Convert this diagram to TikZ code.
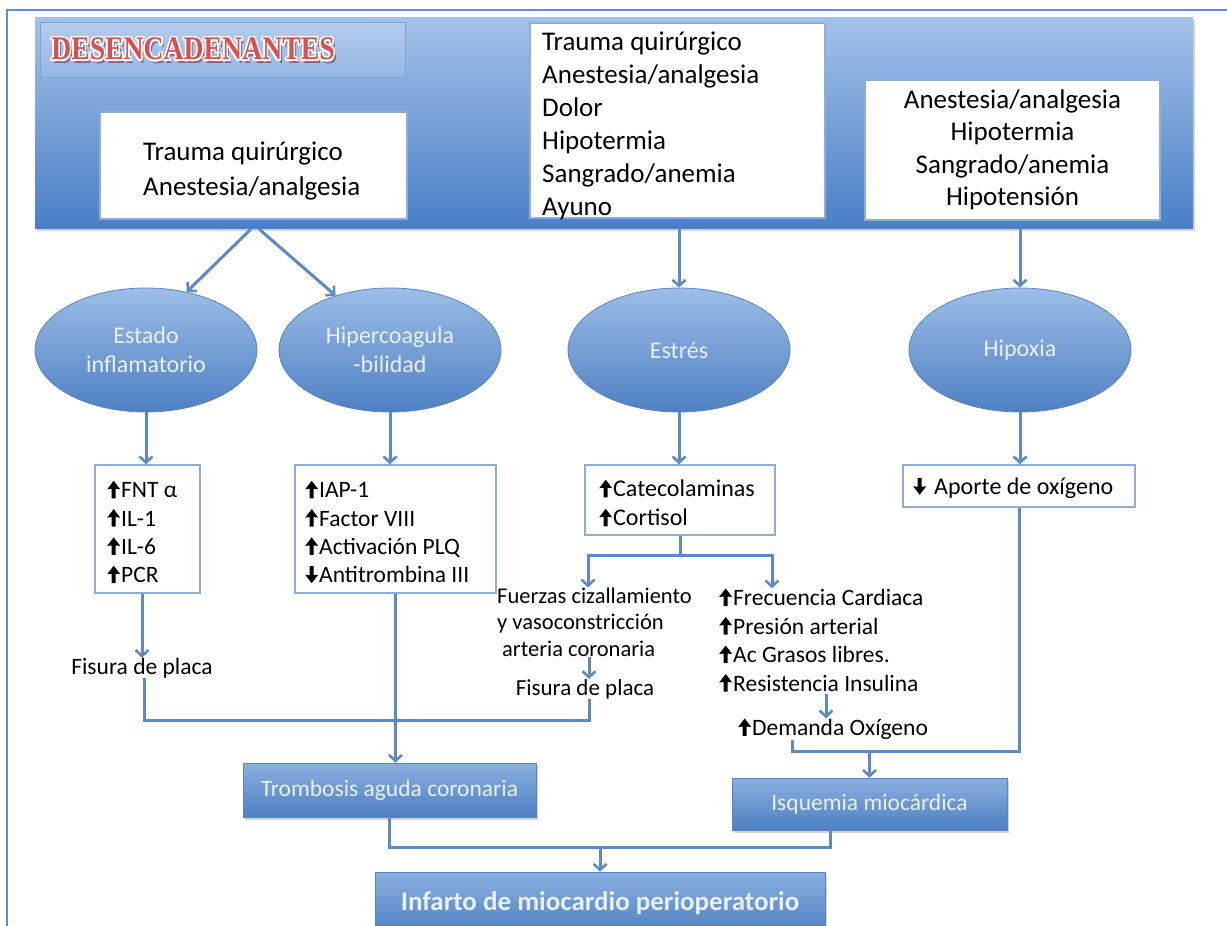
\documentclass[tikz,border=0pt]{standalone}
\usepackage{fontspec}
\usepackage{graphicx}
\usepackage{contour}
\setmainfont{Carlito}
\newfontfamily\titlefont{Liberation Serif}
\usetikzlibrary{arrows.meta,shadows,shapes.geometric,shadings}

\definecolor{framec}{HTML}{5B8FD3}
\definecolor{bandtop}{HTML}{A3C2E9}
\definecolor{bandbot}{HTML}{4A7FC7}
\definecolor{destop}{HTML}{B4CDEE}
\definecolor{desbot}{HTML}{94B6E3}
\definecolor{desline}{HTML}{7FA2D2}
\definecolor{ovtop}{HTML}{9CBDE7}
\definecolor{ovbot}{HTML}{4E80C3}
\definecolor{ovline}{HTML}{5A84BE}
\definecolor{ovtext}{HTML}{E9F0FA}
\definecolor{bxtop}{HTML}{8AB0E0}
\definecolor{bxbot}{HTML}{4D7FC1}
\definecolor{linec}{HTML}{5D8AC3}
\definecolor{boxline}{HTML}{8FAED6}
\definecolor{desred}{HTML}{D9504F}

% heavy up/down arrows used in the lists
\newcommand{\arrUp}{\tikz[x=1pt,y=1pt,baseline=0pt]\fill[black]
  (4.5,-0.5) -- (4.5,9) -- (0,8.5) -- (6.5,17) -- (13,8.5) -- (8.5,9) -- (8.5,-0.5) -- cycle;\hspace{1pt}}
\newcommand{\arrDn}{\tikz[x=1pt,y=1pt,baseline=0pt]\fill[black]
  (4.5,16.5) -- (4.5,7.5) -- (0,8) -- (6.5,-0.5) -- (13,8) -- (8.5,7.5) -- (8.5,16.5) -- cycle;\hspace{1pt}}

\tikzset{
  plain/.style={draw=linec, line width=3pt},
  conn/.style={plain, -{Straight Barb[length=6pt,width=13pt,line width=2.6pt]}},
  whitebox/.style={draw=boxline, line width=1.5pt, fill=white, inner sep=0pt},
  oval/.style={ellipse, minimum width=222pt, minimum height=124pt,
    top color=ovtop, bottom color=ovbot, draw=ovline, line width=0.8pt,
    text=ovtext, align=center, inner sep=0pt,
    font=\fontsize{24}{29}\selectfont},
  bluebox/.style={top color=bxtop, bottom color=bxbot, draw=ovline, line width=0.6pt,
    text=ovtext, inner sep=0pt,
    drop shadow={opacity=0.35, shadow xshift=2pt, shadow yshift=-3pt}},
  label/.style={inner sep=0pt, align=left},
}

\begin{document}
\begin{tikzpicture}[x=1pt,y=-1pt]
\useasboundingbox (0,0) rectangle (1227,926);
\clip (0,0) rectangle (1227,926);

% outer frame
\draw[framec, line width=2pt] (7,926) -- (7,10) -- (1227,10);

% header band with its boxes
\node[top color=bandtop, bottom color=bandbot, minimum width=1158pt, minimum height=211pt,
  inner sep=0pt, drop shadow={opacity=0.35, shadow xshift=2pt, shadow yshift=-3pt}]
  (band) at (614,122.5) {};
\node[top color=destop, bottom color=desbot, draw=desline, line width=1pt,
  minimum width=365pt, minimum height=55pt, inner sep=0pt] (des) at (222.5,49.5) {};
\node[inner sep=0pt, text=black!60!red, opacity=0.45] (desshadow) at (195.5,53)
  {\titlefont\bfseries\fontsize{33}{33}\selectfont\scalebox{0.84}[1]{DESENCADENANTES}};
\contourlength{1.8pt}
\node[inner sep=0pt] (destitle) at (193,50)
  {\titlefont\bfseries\fontsize{33}{33}\selectfont\scalebox{0.84}[1]{\contour{white}{\textcolor{desred}{DESENCADENANTES}}}};

\node[whitebox, minimum width=307pt, minimum height=107pt] (lbox) at (253.5,165.5) {};
\node[label, anchor=west, font=\fontsize{27}{35}\selectfont] (ltext) at (143,171)
  {Trauma quirúrgico\\Anestesia/analgesia};
\node[whitebox, minimum width=295pt, minimum height=195pt] (mbox) at (677.5,120.5) {};
\node[label, anchor=west, font=\fontsize{27}{33}\selectfont] (mtext) at (542,126)
  {Trauma quirúrgico\\Anestesia/analgesia\\Dolor\\Hipotermia\\Sangrado/anemia\\Ayuno};
\node[whitebox, minimum width=295pt, minimum height=140pt, align=center,
  font=\fontsize{27}{32.5}\selectfont] (rbox) at (1012.5,150)
  {Anestesia/analgesia\\Hipotermia\\Sangrado/anemia\\Hipotensión};

% mechanisms
\node[oval] (e1) at (146,350) {Estado\\inflamatorio};
\node[oval] (e2) at (390,350) {Hipercoagula\\-bilidad};
\node[oval] (e3) at (679,350) {Estrés};
\node[oval] (e4) at (1020,350) {Hipoxia};

\coordinate (s1) at (251,229);
\coordinate (s2) at (259,229);
\draw[conn] (s1) -- (e1.55);
\draw[conn] (s2) -- (e2.135);
\draw[conn] (band.south -| e3) -- (e3.north);
\draw[conn] (band.south -| e4) -- (e4.north);

% mediators
\node[whitebox, minimum width=105pt, minimum height=128pt] (b1) at (147.5,529) {};
\node[label, anchor=west, font=\fontsize{23.5}{28.3}\selectfont] (t1) at (107,532)
  {\arrUp FNT α\\\arrUp IL-1\\\arrUp IL-6\\\arrUp PCR};
\node[whitebox, minimum width=201pt, minimum height=128pt] (b2) at (395.5,529) {};
\node[label, anchor=west, font=\fontsize{23.5}{28.3}\selectfont] (t2) at (305,532)
  {\arrUp IAP-1\\\arrUp Factor VIII\\\arrUp Activación PLQ\\\arrDn Antitrombina III};
\node[whitebox, minimum width=190pt, minimum height=70pt] (b3) at (680,500) {};
\node[label, anchor=west, font=\fontsize{24}{29}\selectfont] (t3) at (599,503)
  {\arrUp Catecolaminas\\\arrUp Cortisol};
\node[whitebox, minimum width=232pt, minimum height=42pt] (b4) at (1019,486) {};
\node[label, anchor=west, font=\fontsize{24}{28}\selectfont] (t4) at (913,488)
  {\arrDn\hspace{7pt}Aporte de oxígeno};

\draw[conn] (e1.south) -- (e1.south |- b1.north);
\draw[conn] (e2.south) -- (e2.south |- b2.north);
\draw[conn] (e3.south) -- (e3.south |- b3.north);
\draw[conn] (e4.south) -- (e4.south |- b4.north);

% consequences
\node[label, anchor=center, font=\fontsize{23.5}{27}\selectfont] (fis1) at (142,668) {Fisura de placa};
\node[label, anchor=west, font=\fontsize{22.5}{26.5}\selectfont] (fuer) at (497,622)
  {Fuerzas cizallamiento\\y vasoconstricción\\\hspace*{5pt}arteria coronaria};
\node[label, anchor=center, font=\fontsize{23}{27}\selectfont] (fis2) at (585,689) {Fisura de placa};
\node[label, anchor=west, font=\fontsize{23.5}{28.5}\selectfont] (freq) at (719,640)
  {\arrUp Frecuencia Cardiaca\\\arrUp Presión arterial\\\arrUp Ac Grasos libres.\\\arrUp Resistencia Insulina};
\node[label, anchor=west, font=\fontsize{23.5}{28}\selectfont] (dem) at (738,729)
  {\arrUp Demanda Oxígeno};

\draw[conn] (b1.south -| fis1) -- (fis1.north);

\coordinate (fkL) at (588,555);
\coordinate (fkR) at (772,555);
\draw[plain] (b3.south) -- (b3.south |- fkL);
\draw[plain, {Straight Barb[length=6pt,width=13pt,line width=2.6pt]}-{Straight Barb[length=6pt,width=13pt,line width=2.6pt]}]
  (fkL |- fuer.north) -- (fkL) -- (fkR) -- (fkR |- freq.north);

\coordinate (fa) at (589,657);
\draw[conn] (fa) -- (fa |- fis2.north);
\coordinate (fb) at (826,694);
\draw[conn] (fb) -- (fb |- dem.north);

% plaque fissures converge on thrombosis
\coordinate (pL) at (144,720);
\coordinate (pR) at (589,720);
\draw[plain] (pL |- fis1.south) -- (pL) -- (pR) -- (pR |- fis2.south);

\node[bluebox, minimum width=293pt, minimum height=54pt,
  font=\fontsize{23.5}{28}\selectfont] (trom) at (389.5,790) {Trombosis aguda coronaria};
\node[bluebox, minimum width=275pt, minimum height=52pt,
  font=\fontsize{23.5}{28}\selectfont] (isq) at (869.5,804) {Isquemia miocárdica};
\node[bluebox, minimum width=450pt, minimum height=63pt,
  font=\bfseries\fontsize{27}{30}\selectfont] (inf) at (600,903.5) {Infarto de miocardio perioperatorio};

\draw[conn] (b2.south) -- (b2.south |- trom.north);

% supply and demand converge on ischaemia
\coordinate (jd) at (792,751);
\draw[plain] (b4.south) |- (jd) -- (jd |- dem.south);
\draw[conn] (isq.north |- jd) -- (isq.north);

% both routes converge on the infarction
\coordinate (jb) at (830,847);
\draw[plain] (trom.south) |- (jb) -- (jb |- isq.south);
\draw[conn] (inf.north |- jb) -- (inf.north);
\end{tikzpicture}
\end{document}
